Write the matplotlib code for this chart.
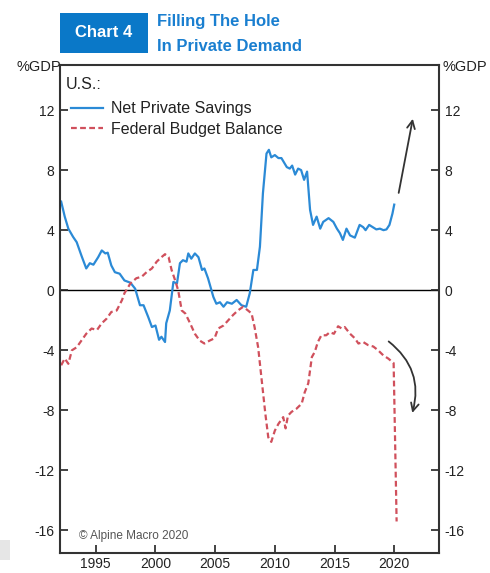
import matplotlib.pyplot as plt
from matplotlib.patches import Rectangle, FancyArrowPatch

plt.rcParams['font.family'] = ['Liberation Sans', 'DejaVu Sans']
plt.rcParams['axes.unicode_minus'] = False

# Net Private Savings (%GDP)
nps_year = [1992.1, 1992.4, 1992.7, 1993.1, 1993.4, 1993.8, 1994.2, 1994.5, 1994.8,
            1995.2, 1995.5, 1995.8, 1996.0, 1996.3, 1996.6, 1997.0, 1997.4, 1997.9,
            1998.3, 1998.7, 1999.0, 1999.4, 1999.7, 2000.0, 2000.3, 2000.5, 2000.8,
            2000.9, 2001.2, 2001.5, 2001.8, 2002.05, 2002.3, 2002.6, 2002.75, 2003.0,
            2003.3, 2003.6, 2003.9, 2004.1, 2004.4, 2004.85, 2005.1, 2005.4, 2005.7,
            2006.0, 2006.4, 2006.8, 2007.2, 2007.6, 2007.9, 2008.2, 2008.5, 2008.75,
            2009.0, 2009.3, 2009.5, 2009.7, 2010.0, 2010.3, 2010.55, 2011.0, 2011.25,
            2011.45, 2011.7, 2011.95, 2012.2, 2012.45, 2012.7, 2012.95, 2013.2, 2013.5,
            2013.8, 2014.05, 2014.5, 2014.9, 2015.2, 2015.45, 2015.7, 2016.0, 2016.3,
            2016.7, 2017.1, 2017.4, 2017.6, 2017.9, 2018.2, 2018.5, 2018.8, 2019.1,
            2019.35, 2019.6, 2019.85, 2020.0]
nps_val = [5.9, 4.9, 4.1, 3.55, 3.2, 2.3, 1.45, 1.8, 1.7,
           2.2, 2.65, 2.45, 2.5, 1.65, 1.2, 1.1, 0.65, 0.5,
           0.1, -1.0, -1.0, -1.8, -2.45, -2.35, -3.3, -3.1, -3.45,
           -2.2, -1.35, 0.55, 0.45, 1.8, 2.0, 1.9, 2.45, 2.1,
           2.45, 2.2, 1.35, 1.45, 0.8, -0.45, -0.9, -0.8, -1.1,
           -0.8, -0.9, -0.65, -1.0, -1.1, -0.2, 1.35, 1.35, 2.9,
           6.45, 9.1, 9.35, 8.85, 9.0, 8.8, 8.8, 8.2, 8.1,
           8.3, 7.7, 8.1, 8.0, 7.35, 7.9, 5.35, 4.35, 4.9,
           4.1, 4.55, 4.8, 4.55, 4.1, 3.8, 3.35, 4.1, 3.65,
           3.5, 4.35, 4.2, 4.0, 4.35, 4.2, 4.05, 4.1, 4.0,
           4.05, 4.35, 5.1, 5.7]

# Federal Budget Balance (%GDP)
fbb_year = [1992.1, 1992.4, 1992.7, 1993.0, 1993.4, 1993.8, 1994.2, 1994.65, 1995.1,
            1995.5, 1995.9, 1996.3, 1996.75, 1997.2, 1997.4, 1997.9, 1998.4, 1998.85,
            1999.25, 1999.7, 2000.1, 2000.5, 2000.8, 2001.1, 2001.35, 2001.65, 2001.9,
            2002.2, 2002.5, 2002.9, 2003.3, 2003.7, 2004.1, 2004.55, 2004.95, 2005.25,
            2005.7, 2006.1, 2006.5, 2006.9, 2007.35, 2007.75, 2008.05, 2008.3, 2008.6,
            2008.9, 2009.2, 2009.45, 2009.7, 2010.0, 2010.3, 2010.7, 2010.9, 2011.1,
            2011.4, 2011.8, 2012.25, 2012.5, 2012.8, 2013.1, 2013.35, 2013.6, 2013.9,
            2014.3, 2014.6, 2014.95, 2015.3, 2015.6, 2015.85, 2016.3, 2016.7, 2017.0,
            2017.4, 2017.8, 2018.25, 2018.65, 2019.1, 2019.5, 2019.95, 2020.2]
fbb_val = [-5.0, -4.55, -4.9, -4.0, -3.8, -3.35, -2.9, -2.55, -2.65,
           -2.2, -1.9, -1.45, -1.35, -0.65, -0.2, 0.45, 0.8, 0.9,
           1.2, 1.45, 1.9, 2.2, 2.4, 2.2, 1.35, 0.65, 0.0,
           -1.35, -1.55, -2.2, -2.9, -3.35, -3.55, -3.35, -3.2, -2.55,
           -2.35, -2.0, -1.65, -1.35, -1.1, -1.35, -1.55, -2.45, -3.8,
           -6.0, -8.2, -9.8, -10.1, -9.35, -8.9, -8.45, -9.2, -8.35,
           -8.1, -7.9, -7.55, -6.8, -6.2, -4.45, -4.1, -3.45, -3.0,
           -3.0, -2.8, -2.9, -2.4, -2.55, -2.45, -2.9, -3.2, -3.55,
           -3.45, -3.65, -3.75, -4.0, -4.35, -4.55, -4.85, -15.4]

yticks = [-16, -12, -8, -4, 0, 4, 8, 12]
xticks = [1995, 2000, 2005, 2010, 2015, 2020]

blue = '#2b8ad6'
red = '#d0505c'
ink = '#222222'

fig = plt.figure(figsize=(4.9, 5.73), dpi=100)
ax = fig.add_axes([0.1224, 0.0349, 0.7735, 0.8517])

ax.plot(nps_year, nps_val, color=blue, lw=1.6, label='Net Private Savings')
ax.plot(fbb_year, fbb_val, color=red, lw=1.6, ls=(0, (2.6, 1.5)), label='Federal Budget Balance')
ax.axhline(0, color='black', lw=1.0, zorder=1)

ax.set_xlim(1992, 2023.75)
ax.set_ylim(-17.5, 15)
ax.set_xticks(xticks)
ax.set_yticks(yticks)
ax.tick_params(axis='both', direction='in', length=6, width=1.2, labelsize=10,
               colors=ink, pad=4)
ax.tick_params(axis='y', right=True, labelright=True)
ax.tick_params(axis='x', pad=3)
for sp in ax.spines.values():
    sp.set_linewidth(1.5)
    sp.set_color('#333333')

leg = ax.legend(loc='upper left', bbox_to_anchor=(0.005, 0.945), frameon=False,
                fontsize=11.5, handlelength=2.0, handletextpad=0.5, labelspacing=0.35,
                borderaxespad=0.2)
for t in leg.get_texts():
    t.set_color(ink)
ax.text(0.015, 0.975, 'U.S.:', transform=ax.transAxes, fontsize=11.5, color=ink,
        va='top', ha='left')
ax.text(0.05, 0.022, '\u00a9 Alpine Macro 2020', transform=ax.transAxes, fontsize=8.5,
        color='#555555', va='bottom', ha='left')

# arrows
ax.add_patch(FancyArrowPatch((2020.33, 6.3), (2021.6, 11.6), arrowstyle='->',
                             mutation_scale=14, color='#333333', lw=1.3))
ax.add_patch(FancyArrowPatch((2019.35, -3.3), (2021.45, -8.35), arrowstyle='->',
                             connectionstyle='arc3,rad=-0.35', mutation_scale=14,
                             color='#333333', lw=1.3))

# axis unit labels
fig.text(0.124, 0.883, '%GDP', fontsize=10.5, color=ink, ha='right', va='center')
fig.text(0.903, 0.883, '%GDP', fontsize=10.5, color=ink, ha='left', va='center')

# header
fig.patches.append(Rectangle((0.1224, 0.9075), 0.18, 0.07, transform=fig.transFigure,
                             facecolor='#0a78c8', edgecolor='none'))
fig.text(0.2124, 0.9425, 'Chart 4', fontsize=12, fontweight='bold', color='white',
         ha='center', va='center', family=['Liberation Sans Narrow', 'Liberation Sans'])
fig.text(0.32, 0.962, 'Filling The Hole', fontsize=12, fontweight='bold', color='#1a7fd0',
         ha='left', va='center', family=['Liberation Sans Narrow', 'Liberation Sans'])
fig.text(0.32, 0.918, 'In Private Demand', fontsize=12, fontweight='bold', color='#1a7fd0',
         ha='left', va='center', family=['Liberation Sans Narrow', 'Liberation Sans'])

# small grey mark at lower left of the screenshot
fig.patches.append(Rectangle((0.0, 0.023), 0.02, 0.035, transform=fig.transFigure,
                             facecolor='#e6e6e6', edgecolor='none'))

fig.savefig('out.png', dpi=100)
